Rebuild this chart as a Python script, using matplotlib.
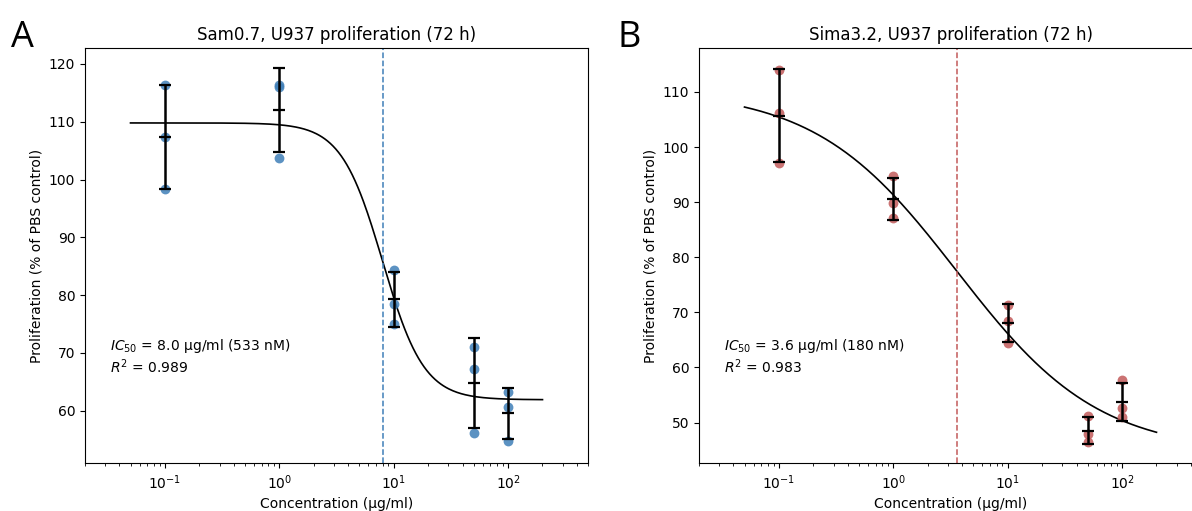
import numpy as np
import matplotlib.pyplot as plt

# concentrations (ug/ml), three replicates each
conc = [0.1, 1, 10, 50, 100]

sam_vals = [[116.3, 107.4, 98.3],
            [116.4, 116.0, 103.7],
            [84.4, 78.4, 75.0],
            [71.1, 67.2, 56.1],
            [63.2, 60.7, 54.7]]

sima_vals = [[113.9, 106.1, 97.1],
             [94.8, 89.8, 87.2],
             [71.4, 68.5, 64.5],
             [51.2, 47.9, 46.4],
             [57.7, 52.6, 51.0]]

# 4-parameter logistic fits: top, bottom, ic50, hill
sam_fit = [109.8, 61.9, 8.0, 2.4]
sima_fit = [110.4, 44.5, 3.6, 0.7]

sam_text = "$IC_{50}$ = 8.0 µg/ml (533 nM)\n$R^2$ = 0.989"
sima_text = "$IC_{50}$ = 3.6 µg/ml (180 nM)\n$R^2$ = 0.983"


def four_pl(x, top, bottom, ic50, hill):
    return bottom + (top - bottom) / (1 + (x / ic50) ** hill)


def draw_panel(ax, vals, fit, color, title, note, ylim):
    vals = np.array(vals)
    for c, v in zip(conc, vals):
        ax.scatter([c] * len(v), v, s=50, color=color, alpha=0.85, zorder=2, linewidths=0)
    means = vals.mean(axis=1)
    sds = vals.std(axis=1, ddof=1)
    ax.errorbar(conc, means, yerr=sds, fmt='_', color='black', ecolor='black',
                elinewidth=1.8, capsize=4, capthick=1.5, markersize=9, mew=1.6, zorder=3)
    x = np.logspace(np.log10(0.05), np.log10(200), 300)
    ax.plot(x, four_pl(x, *fit), color='black', lw=1.2, zorder=1)
    ax.axvline(fit[2], color=color, ls='--', lw=1.1)
    ax.set_xscale('log')
    ax.set_xlim(0.02, 500)
    ax.set_ylim(*ylim)
    ax.set_title(title, fontsize=12)
    ax.set_xlabel('Concentration (µg/ml)')
    ax.set_ylabel('Proliferation (% of PBS control)')
    ax.text(0.05, 0.305, note, transform=ax.transAxes, va='top', fontsize=10)


fig = plt.figure(figsize=(11.92, 5.11), dpi=100)
ax1 = fig.add_axes([0.0713, 0.0933, 0.422, 0.812])
ax2 = fig.add_axes([0.5864, 0.0933, 0.422, 0.812])

draw_panel(ax1, sam_vals, sam_fit, '#3f7fb8', 'Sam0.7, U937 proliferation (72 h)', sam_text, (50.9, 122.7))
draw_panel(ax2, sima_vals, sima_fit, '#c25a5a', 'Sima3.2, U937 proliferation (72 h)', sima_text, (42.6, 117.9))

fig.text(0.009, 0.908, 'A', fontsize=26, family=['Open Sans', 'DejaVu Sans'], va='baseline')
fig.text(0.518, 0.908, 'B', fontsize=26, family=['Open Sans', 'DejaVu Sans'], va='baseline')

fig.savefig('out.png', dpi=100)
